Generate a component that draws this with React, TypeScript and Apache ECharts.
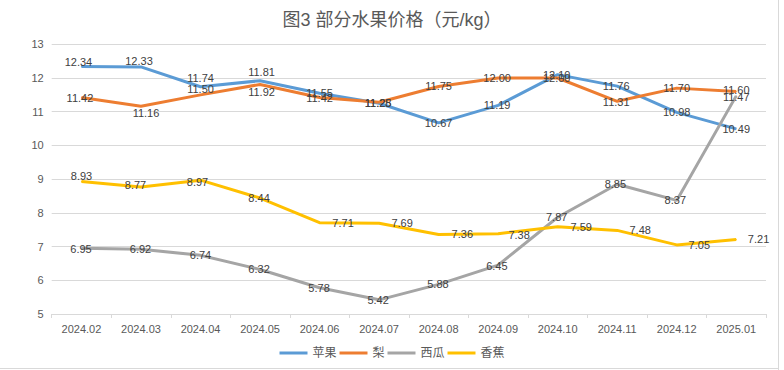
import React, { useEffect, useRef } from "react";
import * as echarts from "echarts";

const categories = ["2024.02", "2024.03", "2024.04", "2024.05", "2024.06", "2024.07", "2024.08", "2024.09", "2024.10", "2024.11", "2024.12", "2025.01"];
const apple = [12.34, 12.33, 11.74, 11.92, 11.55, 11.25, 10.67, 11.19, 12.1, 11.76, 10.98, 10.49];
const pear = [11.42, 11.16, 11.5, 11.81, 11.42, 11.28, 11.75, 12.0, 12.0, 11.31, 11.7, 11.6];
const watermelon = [6.95, 6.92, 6.74, 6.32, 5.78, 5.42, 5.88, 6.45, 7.87, 8.85, 8.37, 11.47];
const banana = [8.93, 8.77, 8.97, 8.44, 7.71, 7.69, 7.36, 7.38, 7.59, 7.48, 7.05, 7.21];
const seriesNames = ["苹果", "梨", "西瓜", "香蕉"];
const yTicks = { min: 5, max: 13, interval: 1 };

// label offsets (style only)
const appleOffsets = [[-3, -4.5], [-2, -6], [0, -9], [1.5, 11], [0, 0], [-1, 0], [0, 0], [-1, 0], [-1, 0], [-1, 0], [0, -0.5], [0, 0]];
const pearOffsets = [[-1.5, 0], [5, 6.4], [0, -5.5], [1.5, -12.7], [0, 0], [-1, 1], [0, -0.5], [-1, 0], [-1, 0], [-1, 0.5], [0, 0], [0, -1]];
const melonOffsets = [[-0.5, 0.8], [-0.5, 0], [0, -0.4], [-1, 0], [-0.5, 0.6], [-1, 0], [-0.7, 0], [-1.3, 0.6], [-1, 0], [-1.8, 0], [-1.4, -0.4], [0, 1]];
const bananaOffsets = [[0, -5.5], [-5.5, -2], [-3, 1.5], [-1, 0], [23.5, 0], [23, 0], [23.7, 0], [21, 1], [23.5, 0.6], [23, -0.4], [22.6, 0], [22.3, 0]];

const colors = ["#5B9BD5", "#ED7D31", "#A5A5A5", "#FFC000"];
const FONT = "'Liberation Sans', 'Noto Sans CJK SC', sans-serif";

function buildData(values: number[], offsets: number[][]) {
  return values.map((v, i) => ({
    value: v,
    label: { offset: offsets[i] },
  }));
}

export default function App() {
  const ref = useRef<HTMLDivElement>(null);
  useEffect(() => {
    document.body.style.margin = "0";
    if (!ref.current) return;
    const chart = echarts.init(ref.current, undefined, { renderer: "svg" });
    const all = [
      [apple, appleOffsets],
      [pear, pearOffsets],
      [watermelon, melonOffsets],
      [banana, bananaOffsets],
    ] as [number[], number[][]][];
    chart.setOption({
      animation: false,
      backgroundColor: "#ffffff",
      title: {
        text: "图3 部分水果价格（元/kg）",
        left: "center",
        top: 6,
        textStyle: { fontSize: 18, fontWeight: "normal", color: "#595959", fontFamily: FONT },
      },
      legend: {
        data: seriesNames,
        left: "center",
        top: 342,
        icon: "rect",
        itemWidth: 28,
        itemHeight: 3,
        itemGap: 3,
        textStyle: { fontSize: 12, color: "#595959", fontFamily: FONT },
      },
      grid: { left: 51.7, right: 18, top: 44.3, bottom: 56, containLabel: false },
      xAxis: {
        type: "category",
        data: categories,
        boundaryGap: true,
        axisLine: { lineStyle: { color: "#D9D9D9", width: 1 } },
        axisTick: { show: true, length: 4, lineStyle: { color: "#D9D9D9" } },
        axisLabel: { fontSize: 11, color: "#595959", margin: 9, fontFamily: FONT },
        splitLine: { show: false },
      },
      yAxis: {
        type: "value",
        min: yTicks.min,
        max: yTicks.max,
        interval: yTicks.interval,
        axisLine: { show: false },
        axisTick: { show: false },
        axisLabel: { fontSize: 11, color: "#595959", margin: 8, fontFamily: FONT },
        splitLine: { lineStyle: { color: "#D9D9D9", width: 1 } },
      },
      graphic: [
        { type: "line", shape: { x1: 778.5, y1: 0, x2: 778.5, y2: 370 }, style: { stroke: "#D9D9D9", lineWidth: 1 } },
        { type: "line", shape: { x1: 0, y1: 368.5, x2: 778.5, y2: 368.5 }, style: { stroke: "#D9D9D9", lineWidth: 1 } },
      ],
      series: all.map(([vals, offs], k) => ({
        name: seriesNames[k],
        type: "line",
        data: buildData(vals, offs),
        symbol: "circle",
        symbolSize: 1,
        showSymbol: true,
        lineStyle: { color: colors[k], width: 3 },
        itemStyle: { color: colors[k] },
        label: {
          show: true,
          position: "inside",
          fontSize: 11,
          color: "#404040",
          fontFamily: FONT,
          formatter: (p: any) => Number(p.value).toFixed(2),
        },
        emphasis: { disabled: true },
      })),
    });
    return () => chart.dispose();
  }, []);
  return <div ref={ref} style={{ width: 784, height: 370 }} />;
}
